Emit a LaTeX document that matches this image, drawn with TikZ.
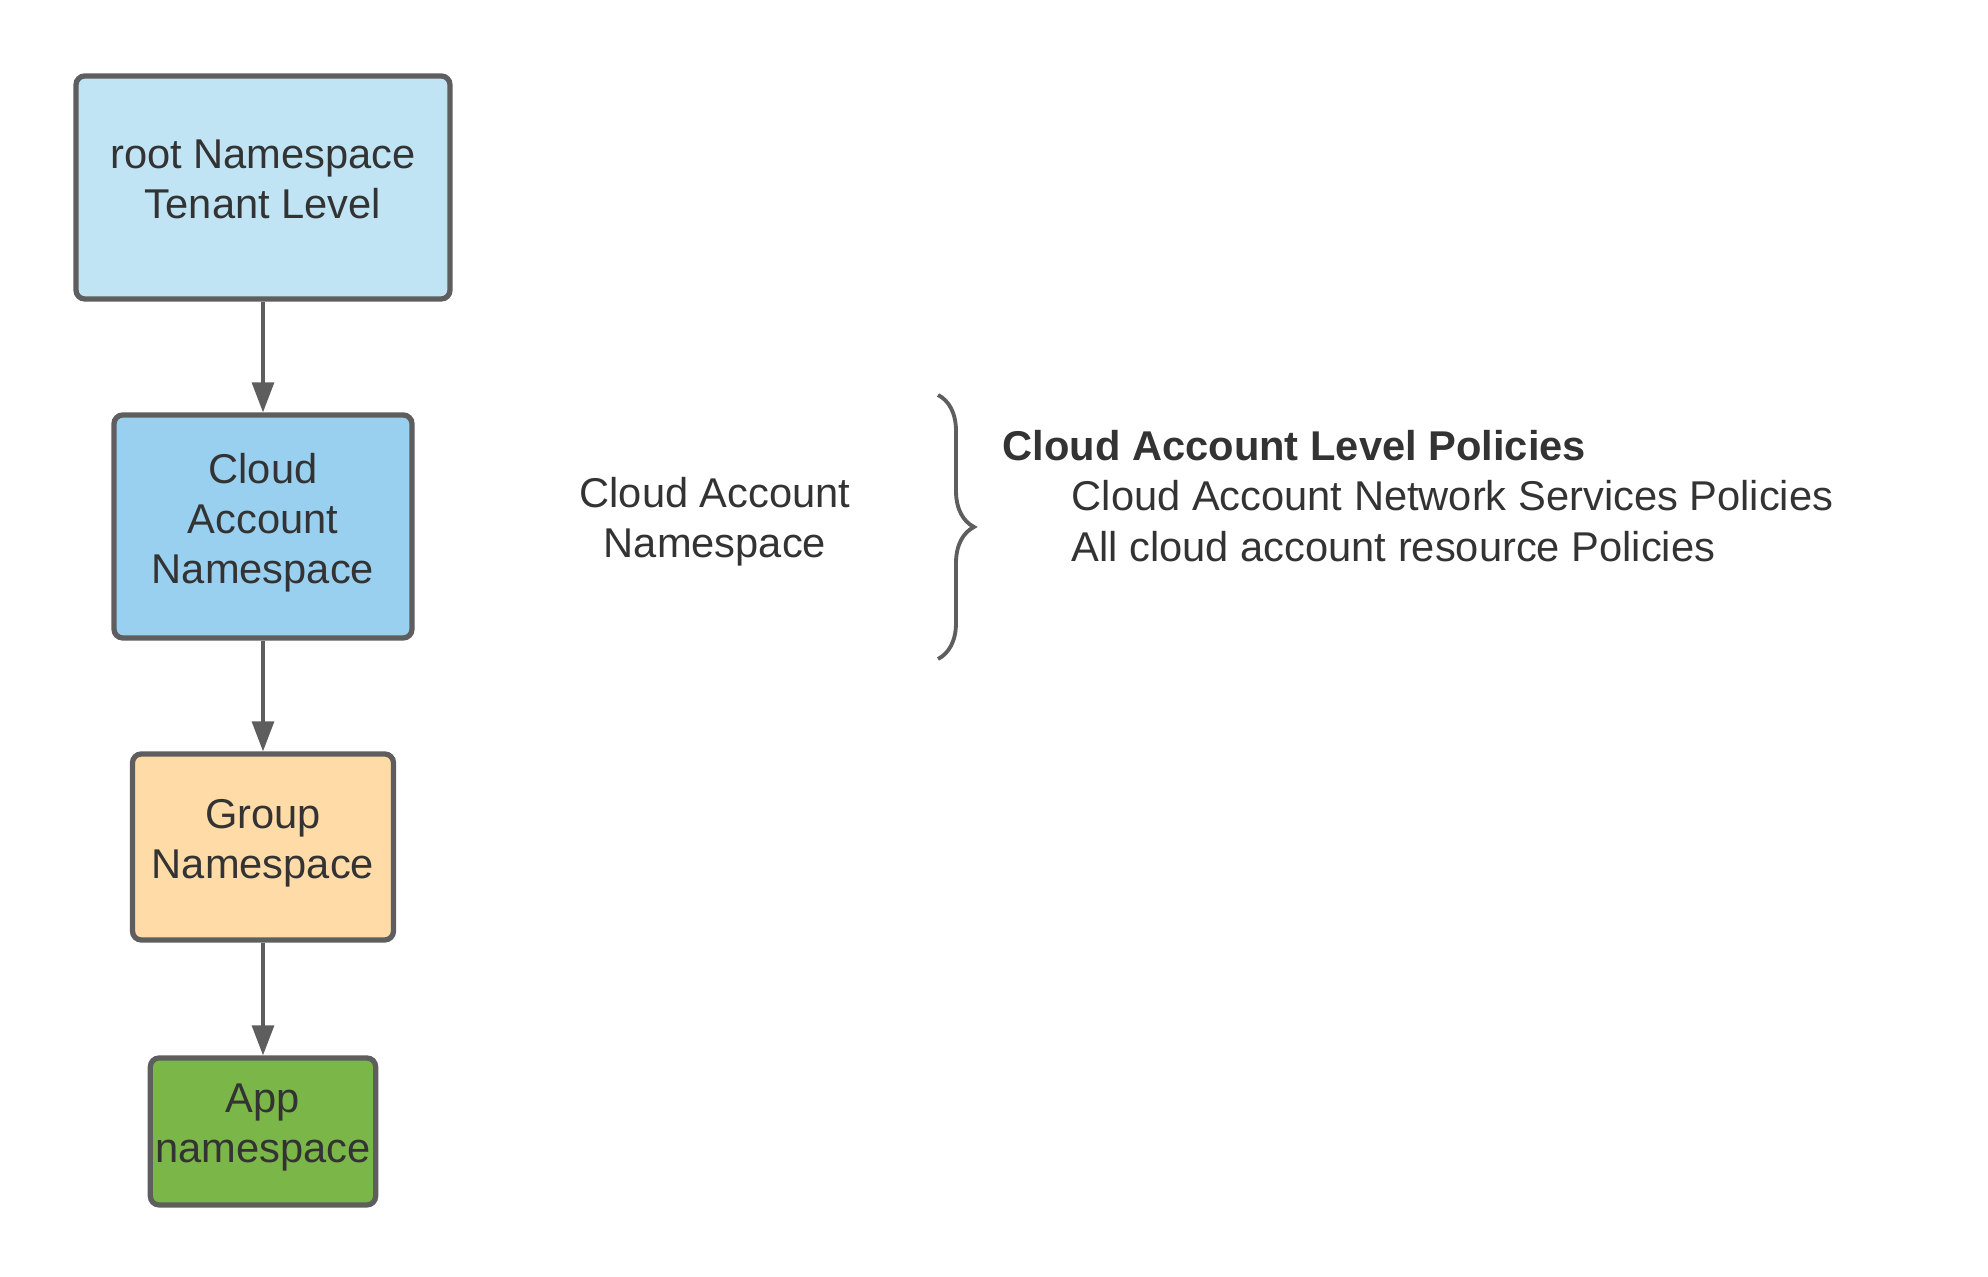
\documentclass[tikz,border=0pt]{standalone}
\usepackage{fontspec}
\setmainfont{Liberation Sans}
\usetikzlibrary{arrows.meta,positioning,decorations.pathreplacing}
\definecolor{edge}{HTML}{5E5E5E}
\definecolor{ink}{HTML}{333333}
\definecolor{rootblue}{HTML}{C1E4F5}
\definecolor{cloudblue}{HTML}{99D0F0}
\definecolor{groupsand}{HTML}{FFDBA8}
\definecolor{appgreen}{HTML}{7AB648}

\begin{document}
\begin{tikzpicture}[
  nsbox/.style={
    draw=edge,
    line width=1.5pt,
    rectangle,
    rounded corners=2.5pt,
    align=center,
    text=ink,
    text depth=4.5pt,
    inner sep=0.05cm,
    font=\fontsize{11.85}{14.2}\selectfont
  },
  note/.style={
    inner sep=0pt,
    text=ink,
    font=\fontsize{11.85}{14.2}\selectfont
  },
  arrow/.style={-{Triangle[length=0.3cm,width=0.22cm]}, line width=0.9pt, draw=edge}
]
\useasboundingbox (0,0) rectangle (19.88,12.77);

\node[nsbox, fill=rootblue,  minimum width=3.74cm, minimum height=2.23cm] (root)  at (2.63,10.895) {root Namespace\\Tenant Level};
\node[nsbox, fill=cloudblue, minimum width=2.98cm, minimum height=2.23cm] (cloud) at (2.63,7.505)  {Cloud\\Account\\Namespace};
\node[nsbox, fill=groupsand, minimum width=2.61cm, minimum height=1.86cm] (group) at (2.63,4.30)   {Group\\Namespace};
\node[nsbox, fill=appgreen,  minimum width=2.23cm, minimum height=1.47cm] (app)   at (2.63,1.455)  {App\\namespace};

\draw[arrow] (root) -- (cloud);
\draw[arrow] (cloud) -- (group);
\draw[arrow] (group) -- (app);

\node[note, align=center] (sidens) at (7.15,7.55) {Cloud Account\\Namespace};

\coordinate (brtop) at (9.38,8.82);
\coordinate (brbot) at (9.38,6.18);
\draw[decorate, decoration={brace, amplitude=0.36cm}, draw=edge, line width=1.1pt] (brtop) -- (brbot);

\node[note, anchor=west] (levelpol) at (10.02,8.31) {\textbf{Cloud Account Level Policies}};
\node[note, anchor=west] (netpol)   at (10.71,7.81) {Cloud Account Network Services Policies};
\node[note, anchor=west] (respol)   at (10.71,7.30) {All cloud account resource Policies};

\end{tikzpicture}
\end{document}
